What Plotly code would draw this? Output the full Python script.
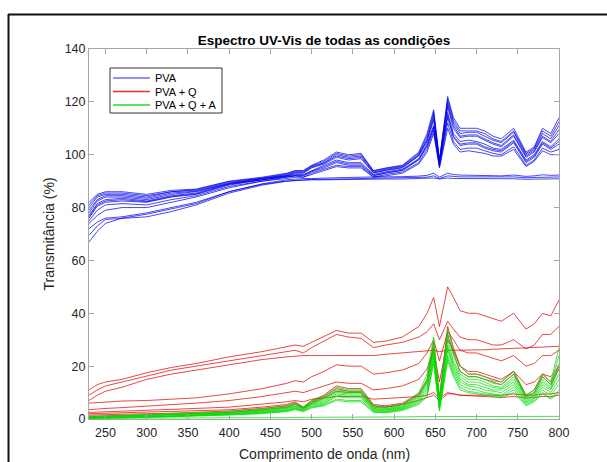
import plotly.graph_objects as go

# wavelength grid (nm)
wl = [230,240,250,270,300,330,360,400,440,470,480,490,500,515,530,545,560,575,590,610,
      630,640,648,655,665,672,680,690,700,710,720,730,745,760,770,780,790,800]

# PVA spectra (%)
pva_1 = [82,85,86,86,85,86.5,87,90,91.5,93,94,94,96,98,101,100,100.5,94,95,96,101,108,117,98,122,114,110,110,110,109,107,106,110,101,103,110,108,114]
pva_2 = [80,84,85,85,84,86,86.5,89.5,91,92.5,93.5,93.5,95.5,97,100,99,99.5,93.5,94.5,95.5,100,106,115,97.5,120,112,108,108.5,108.5,107,105.5,104.5,108.5,100,102,108,106,111]
pva_3 = [78,82.5,84,84,83,85,86,89,91,92,93,93,95,96.5,99,98,98.5,93,94,95,99.5,105,113,97,118,110,106.5,107,107,105.5,104,103,107,99,101,106.5,104.5,108]
pva_4 = [77,81.5,83,83.5,82.5,84.5,85.5,89,90.5,92,92.5,92.5,94,96,98,97,97,92.5,93.5,94.5,98.5,104,111,96.5,116,108,105,105.5,105,104,102.5,102,105.5,98,100,105,103,106]
pva_5 = [76,80.5,82,82.5,82,84,85,88.5,90.5,91.5,92,92,93.5,95,97,96,96,92,93,94,98,103,110,96,114,106.5,103.5,104,104,102.5,101.5,101,104.5,97,99,104,102,104]
pva_6 = [75,79,81,81.5,81,83,84.5,88,90,91.5,92,91.5,93,94.5,96,95.5,95.5,91.5,92.5,93.5,97,102,109,95.5,112,105,102,102.5,102.5,101.5,100.5,100,103,96,98,102.5,101,102]
pva_7 = [74,77,79,80,80,82,84,87.5,90,91,91.5,91.5,92.5,94,95.5,95,95,91.5,92,93,96.5,101,108,95,110,104,101,101.5,101,100.5,99.5,99.5,102,95.5,97.5,101.5,100,100]
pva_8 = [81,84.5,85.5,85.5,84.5,86,86.8,89.8,91.2,92.8,93.8,93.8,95.8,97.5,100.5,99.5,100,93.8,94.8,95.8,100.5,107,116,97.8,121,113,109,109,109,108,106,105,109,100.5,102.5,109,107,112.5]
pva_9 = [79,83,84.5,84.5,83.5,85.5,86.2,89.2,91,92.2,93.2,93.2,95.2,96.8,99.5,98.5,99,93.2,94.2,95.2,99.8,105.5,114,97.2,119,111,107,107.5,107.5,106,104.5,103.5,107.5,99.5,101.5,107,105,109.5]
pva_10 = [76.5,81,82.5,83,82.2,84.2,85.2,88.8,90.5,91.8,92.2,92.2,93.8,95.5,97.5,96.5,96.5,92.2,93.2,94.2,98.2,103.5,110.5,96.2,115,107,104,104.5,104.5,103,102,101.5,105,97.5,99.5,104.5,102.5,105]
pva_11 = [72,74.5,76,76.5,78,80,82,86,89,90.5,90.8,91,91,91.2,91.3,91.4,91.5,91.5,91.6,91.7,91.9,92.2,93,91.5,93,92.5,92.3,92.2,92.3,92,92,92,92.3,91.8,92,92.4,92.2,92.3]
pva_12 = [69.5,73,75.5,76,76.5,78.5,81,85.5,88.5,90,90.3,90.5,90.6,90.7,90.8,90.9,91,91,91.1,91.2,91.3,91.5,92,91,92,91.8,91.6,91.6,91.6,91.5,91.4,91.4,91.6,91.3,91.4,91.6,91.5,91.6]
pva_13 = [67,71,74,76,77.5,79.5,81.5,86,88.8,90,90.2,90.4,90.5,90.5,90.6,90.6,90.7,90.7,90.8,90.8,90.9,91,91.2,90.8,91.2,91,91,90.9,90.9,90.9,90.8,90.8,90.9,90.7,90.8,90.9,90.9,90.9]

# PVA + Q spectra (%)
pvaq_1 = [11,13,14,15,17.5,19.5,21,23.5,25.5,27.5,28,27.5,29,31,33.5,32.5,32.5,29,29.5,31,35,40,46,35,50,46,41,40,40,39,38,37,40,34,36,40,39,45]
pvaq_2 = [9,11,12.5,14,16.5,18.5,20,22,24,25.5,26,25,27,29.5,32,31,30.5,27,28,29,31,33,36,30,37,34,31,30,30,29,28,28,30,26.5,28,32,32,35]
pvaq_3 = [7,9,10.5,12,15,17,18.5,20.5,22.5,23.5,23.8,24,24,24,24,24,24,24,24.5,25,25.5,25.7,26,25.5,26,26,26,26,26,26.2,26.4,26.5,26.8,26.8,27,27.2,27.4,27.5]
pvaq_4 = [6,6.2,6.5,6.8,7,7.5,8,9.5,11.5,13.5,14.5,14,16,18,20.5,20,20,17,17.5,18.5,21,25,30,22,33,30,26,25,25,24,23,22,24,20,21,24,24,26]
pvaq_5 = [3.5,3.8,4,4.3,4.8,5.3,6,7,8.5,10,10.5,10,11,12.5,14,13.5,13.5,11,11.5,12.5,15,19,26,14,30,26,20,18,18,17,16,15,18,13,14,17,16,20]
pvaq_6 = [2.5,2.6,2.7,2.9,3.2,3.5,4,4.5,5.5,6.5,7,6.5,7.5,8,8.5,8.5,8.5,7.5,7.8,8,8.5,9,10,8,10,9.5,9,8.8,8.7,8.5,8.3,8.2,8.5,8,8.2,8.5,8.5,9]
pvaq_7 = [2,2.1,2.2,2.3,2.5,2.8,3,3.5,4.5,5.5,6.5,4.5,7,9,12.5,11.5,11.5,5.5,5,6,9.5,15,29,8,35,27,20,17,17,16,15,14,18,9,11,17,14,20]
pvaq_8 = [1.5,1.6,1.7,1.8,2,2.2,2.5,3,4,5,6,4.3,6.5,8.5,11.5,10.5,10.5,5,4.5,5.5,9,14,27,7,32,25,18,16,16,15,14,13,17,8.5,10,16,13,19]
pvaq_9 = [1,1.1,1.2,1.3,1.5,1.7,2,2.5,3.5,4.5,5.5,4,6,8,10.5,10,10,4.5,4.5,5.5,7,8,9,7,9.5,9.5,9,9,9,9,9,9,9.5,9,9,9.5,9.5,10]

# PVA + Q + A spectra (%)
pvaqa_1 = [1,1.1,1.2,1.4,1.6,1.9,2.2,2.8,3.8,5,6,4.5,7,8.5,12,11,11,5,4.5,5.5,10,17,31,8,34,26,20,17,17,16,14.5,14,18,9,11,17,14,27]
pvaqa_2 = [0.8,0.9,1,1.2,1.4,1.7,2,2.5,3.5,4.5,5.5,4.2,6.5,8,11,10.5,10.5,4.5,4,5,9,15,29,7,32,24,18,16,16,15,13.5,13,17,8.5,10,16,13,24]
pvaqa_3 = [0.7,0.8,0.9,1,1.2,1.5,1.8,2.3,3.2,4.2,5,4,6,7.5,10.5,10,10,4,3.8,4.7,8.5,14,27,6,30,22,17,15,15,14,12.5,12,16,8,9.5,15,12,21]
pvaqa_4 = [0.6,0.7,0.8,0.9,1.1,1.3,1.6,2.1,3,4,4.8,3.8,5.8,7,10,9.5,9.5,3.8,3.5,4.5,8,13,26,5.5,28,21,16,14,14,13,12,11.5,15,7.5,9,14,11.5,19]
pvaqa_5 = [0.5,0.6,0.7,0.8,1,1.2,1.5,2,2.8,3.7,4.5,3.6,5.5,6.5,9.5,9,9,3.5,3.3,4.2,7.5,12,25,5,27,20,15,13,13,12,11,11,14,7,8.5,13,11,17]
pvaqa_6 = [0.4,0.5,0.6,0.7,0.9,1.1,1.4,1.9,2.6,3.4,4.2,3.4,5.2,6,9,8.5,8.5,3.2,3,4,7,11,24,4.5,26,19,14,12.5,12,11,10.5,10,13,6.5,8,12,10,15]
pvaqa_7 = [0.3,0.4,0.5,0.6,0.8,1,1.3,1.7,2.4,3.2,4,3.2,4.8,5.7,8.5,8,8,3,2.8,3.7,6.5,10,23,4,24,18,13,11.5,11,10,9.5,9,12,6,7.5,11,9,13]
pvaqa_8 = [0.3,0.3,0.4,0.5,0.7,0.9,1.2,1.6,2.2,3,3.8,3,4.5,5.3,7.5,7,7,2.7,2.5,3.5,6,9,22,3.5,23,17,12,10.5,10,9.5,9,8.5,11,5.5,7,10,8,11]
pvaqa_9 = [0.2,0.2,0.3,0.4,0.6,0.8,1.1,1.5,2,2.8,3.5,2.8,4.2,5,7,6.5,6.5,2.5,2.3,3.2,5.5,8.5,21,3,22,16,11,10,9.5,9,8.5,8,10,5,6.5,9.5,7.5,10]
pvaqa_10 = [0.3,0.3,0.3,0.3,0.3,0.3,0.3,0.4,0.5,0.5,0.6,0.6,0.7,0.7,0.8,0.8,0.8,0.8,0.8,0.8,0.9,0.9,1,0.9,1,1,1,1,1,1,1,1,1,1,1,1,1,1]

legend_labels = ["PVA", "PVA + Q", "PVA + Q + A"]
colors = ["rgba(0,0,235,0.72)", "rgba(225,0,0,0.72)", "rgba(0,220,0,0.72)"]
legend_colors = ["#6e6ef5", "#e63232", "#28d728"]
series_groups = [
    [pva_1, pva_2, pva_3, pva_4, pva_5, pva_6, pva_7, pva_8, pva_9, pva_10, pva_11, pva_12, pva_13],
    [pvaq_1, pvaq_2, pvaq_3, pvaq_4, pvaq_5, pvaq_6, pvaq_7, pvaq_8, pvaq_9],
    [pvaqa_1, pvaqa_2, pvaqa_3, pvaqa_4, pvaqa_5, pvaqa_6, pvaqa_7, pvaqa_8, pvaqa_9, pvaqa_10],
]

fig = go.Figure()
for name, color, series in zip(legend_labels, colors, series_groups):
    for ys in series:
        fig.add_trace(go.Scatter(
            x=wl, y=ys, mode="lines", name=name, legendgroup=name,
            showlegend=False, line=dict(color=color, width=1),
        ))

FONT = "Liberation Sans, Arial, sans-serif"
axis_common = dict(
    showline=True, linecolor="#a6a6a6", linewidth=1, mirror="ticks",
    ticks="inside", ticklen=5, tickcolor="#a6a6a6", showgrid=False, zeroline=False,
    tickfont=dict(family=FONT, size=12.5, color="#262626"), automargin=False,
)

# plot-area pixel geometry helpers (for items drawn in paper space)
L, R, T, B = 89, 559, 49, 419
def px(x): return (x - L) / (R - L)
def py(y): return (B - y) / (B - T)

shapes = [
    # outer figure frame (only its top and left edges fall inside the image)
    dict(type="line", xref="paper", yref="paper", x0=px(8), x1=px(620), y0=py(14.5), y1=py(14.5),
         line=dict(color="#111111", width=2), layer="above"),
    dict(type="line", xref="paper", yref="paper", x0=px(8.5), x1=px(8.5), y0=py(14), y1=py(480),
         line=dict(color="#111111", width=2), layer="above"),
    dict(type="rect", xref="paper", yref="paper",
         x0=px(110), x1=px(222), y0=py(113), y1=py(68),
         line=dict(color="#333333", width=1), fillcolor="white", layer="above"),
]
annotations = [dict(xref="paper", yref="paper", x=0.5, y=py(454), xanchor="center", yanchor="middle",
                    showarrow=False, text="Comprimento de onda (nm)",
                    font=dict(family=FONT, size=14, color="#262626"))]
legend_rows = [78, 91.5, 105]
for name, color, row in zip(legend_labels, legend_colors, legend_rows):
    yy = py(row)
    shapes.append(dict(type="line", xref="paper", yref="paper",
                       x0=px(113), x1=px(150), y0=yy, y1=yy,
                       line=dict(color=color, width=1.3), layer="above"))
    annotations.append(dict(xref="paper", yref="paper", x=px(153), y=yy,
                            xanchor="left", yanchor="middle", showarrow=False,
                            text=name, font=dict(family=FONT, size=11, color="#000000")))

fig.update_layout(
    width=607, height=462,
    margin=dict(l=L, r=607 - R, t=T, b=462 - B),
    paper_bgcolor="white", plot_bgcolor="white",
    title=dict(text="<b>Espectro UV-Vis de todas as condições</b>",
               x=0.5338, xanchor="center", y=0.913, yanchor="middle",
               font=dict(family=FONT, size=13.5, color="#000000")),
    xaxis=dict(range=[230, 800], tickvals=[250,300,350,400,450,500,550,600,650,700,750,800],
               ticklabelstandoff=2, **axis_common),
    yaxis=dict(range=[0, 140], tickvals=[0,20,40,60,80,100,120,140],
               title=dict(text="Transmitância (%)", standoff=6,
                          font=dict(family=FONT, size=14, color="#262626")),
               **axis_common),
    showlegend=False,
    shapes=shapes,
    annotations=annotations,
)

fig.write_html("out.html")
